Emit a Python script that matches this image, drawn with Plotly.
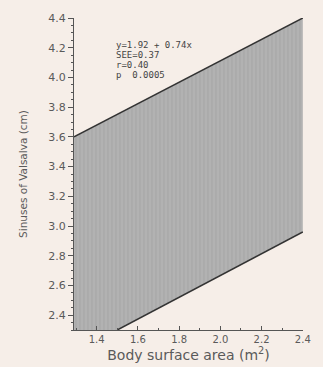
import plotly.graph_objects as go

# Regression band limits
bsa_upper = [1.29, 2.40]
sinus_upper = [3.60, 4.40]
bsa_lower = [1.50, 2.40]
sinus_lower = [2.30, 2.96]

x_range = [1.29, 2.401]
y_range = [2.30, 4.40]
x_ticks = [1.4, 1.6, 1.8, 2.0, 2.2, 2.4]
x_tick_labels = ["1.4", "1.6", "1.8", "2.0", "2.2", "2.4"]
y_ticks = [2.4, 2.6, 2.8, 3.0, 3.2, 3.4, 3.6, 3.8, 4.0, 4.2, 4.4]
y_tick_labels = ["2.4", "2.6", "2.8", "3.0", "3.2", "3.4", "3.6", "3.8", "4.0", "4.2", "4.4"]
stats_lines = ["y=1.92 + 0.74x", "SEE=0.37", "r=0.40", "p  0.0005"]

bg = "#f6eee8"
txt = "#5a5a5a"

poly_x = [x_range[0]] + bsa_upper + bsa_lower[::-1] + [x_range[0]]
poly_y = [y_range[0]] + sinus_upper + sinus_lower[::-1] + [y_range[0]]

fig = go.Figure()
fig.add_trace(go.Scatter(
    x=poly_x, y=poly_y, mode="lines", fill="toself",
    fillcolor="#acacac",
    fillpattern=dict(shape="|", bgcolor="#b2b2b2", fgcolor="#9c9c9c", size=4, solidity=0.3),
    line=dict(width=0), hoverinfo="skip", showlegend=False,
))
fig.add_trace(go.Scatter(x=bsa_upper, y=sinus_upper, mode="lines",
                         line=dict(color="#333333", width=1.5), showlegend=False))
fig.add_trace(go.Scatter(x=bsa_lower, y=sinus_lower, mode="lines",
                         line=dict(color="#333333", width=1.5), showlegend=False))

line_y = [0.912, 0.880, 0.848, 0.816]
for s, yy in zip(stats_lines, line_y):
    fig.add_annotation(
        x=0.175, y=yy, xref="paper", yref="paper", xanchor="left", yanchor="middle",
        text=s, showarrow=False, align="left",
        font=dict(size=9, color="#444444", family="DejaVu Sans Mono"),
    )

fig.update_xaxes(
    range=x_range, tickvals=x_ticks, ticktext=x_tick_labels,
    showgrid=False, zeroline=False, showline=True, linecolor="#555555", linewidth=1,
    ticks="inside", ticklen=4, tickcolor="#555555",
    minor=dict(ticks="inside", ticklen=2, dtick=0.1, tickcolor="#555555"),
    tickfont=dict(size=10, color=txt, family="DejaVu Sans"),
    title=dict(text="Body surface area (m<sup>2</sup>)", standoff=0,
               font=dict(size=14, color=txt, family="DejaVu Sans")),
)
fig.update_yaxes(
    range=y_range, tickvals=y_ticks, ticktext=y_tick_labels,
    showgrid=False, zeroline=False, showline=True, linecolor="#555555", linewidth=1,
    ticks="outside", ticklen=5, tickcolor="#555555",
    minor=dict(ticks="outside", ticklen=2, dtick=0.05, tickcolor="#555555"),
    tickfont=dict(size=11, color=txt, family="DejaVu Sans"),
    title=dict(text="Sinuses of Valsalva (cm)", standoff=18,
               font=dict(size=10.5, color=txt, family="DejaVu Sans")),
)
fig.update_layout(
    width=323, height=367,
    margin=dict(l=74, r=18, t=17, b=37),
    paper_bgcolor=bg, plot_bgcolor=bg,
)
fig.write_html("out.html", config={"displayModeBar": False},
               post_script="document.body.style.margin='0px';document.body.style.background='" + bg + "';")
